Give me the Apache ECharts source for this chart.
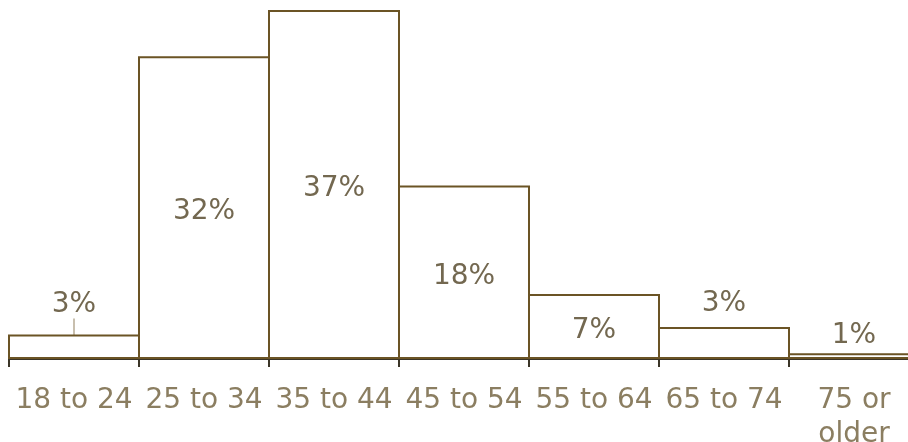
<!DOCTYPE html>
<html>
<head>
<meta charset="utf-8">
<script src="https://cdn.jsdelivr.net/npm/echarts@6/dist/echarts.min.js"></script>
<style>
html, body { margin: 0; padding: 0; background: #fff; }
#main { width: 908px; height: 442px; }
</style>
</head>
<body>
<div id="main"></div>
<script>
var ageGroups = ['18 to 24', '25 to 34', '35 to 44', '45 to 54', '55 to 64', '65 to 74', '75 or\nolder']
var shareValues = [2.6, 32.1, 37, 18.4, 6.9, 3.4, 0.6]
var shareLabels = ['3%', '32%', '37%', '18%', '7%', '3%', '1%']

var labelColor = '#736850'
var axisColor = '#8b7e61'

// small values get their label above the bar, only the first one has a leader line
var barData = shareValues.map(function (v, i) {
    var item = { value: v }
    if (v < 5) {
        item.label = { position: 'top', distance: i == 0 ? 16 : (i == 5 ? 9 : 4) }
    } else {
        item.label = { position: 'inside' }
    }
    if (i == 0) {
        item.labelLine = { show: true }
    }
    return item
})

var myChart = echarts.init(document.getElementById('main'))
myChart.setOption({
    animation: false,
    grid: { left: 9, right: -11, top: 10, bottom: 83, outerBoundsMode: 'none' },
    xAxis: {
        type: 'category',
        data: ageGroups,
        axisLine: { lineStyle: { color: '#3b3528', width: 2 } },
        axisTick: { show: true, alignWithLabel: false, length: 8, lineStyle: { color: '#3b3528', width: 2 } },
        axisLabel: {
            color: axisColor, fontFamily: 'DejaVu Sans', fontSize: 28,
            margin: 25, lineHeight: 34, interval: 0
        }
    },
    yAxis: {
        type: 'value', min: 0, max: 37, show: false,
        splitLine: { show: false }
    },
    series: [{
        type: 'bar',
        data: barData,
        barWidth: 132,
        itemStyle: { color: '#ffffff', borderColor: '#6b5425', borderWidth: 2 },
        label: {
            show: true,
            color: labelColor,
            fontFamily: 'DejaVu Sans',
            fontSize: 28,
            formatter: function (p) { return shareLabels[p.dataIndex] }
        },
        labelLine: { show: false, lineStyle: { color: '#c8bfae', width: 2 } },
        labelLayout: function (p) {
            if (shareValues[p.dataIndex] >= 5) return { dy: 4 }
            return {}
        }
    }]
})
</script>
</body>
</html>
